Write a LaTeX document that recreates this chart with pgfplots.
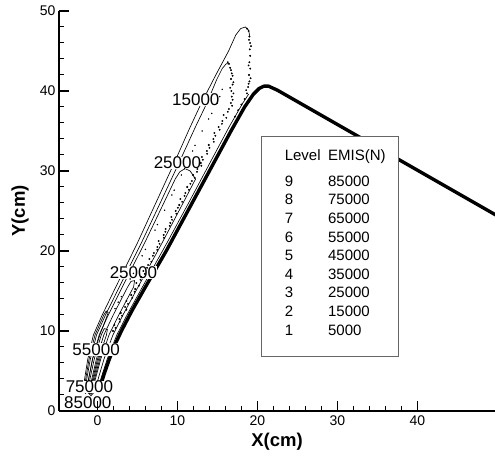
\documentclass[border=0pt]{standalone}
\usepackage{fontspec}
\setmainfont{Liberation Sans}
\usepackage{pgfplots}
\pgfplotsset{compat=1.18}
\usetikzlibrary{calc}

\begin{document}
\begin{tikzpicture}
\begin{axis}[
    name=ax,
    scale only axis,
    width=436pt, height=400pt,
    xmin=-4.8, xmax=49.7, ymin=0, ymax=50,
    axis x line=bottom, axis y line=left,
    axis line style={-, line width=2pt},
    axis on top,
    xtick={0,10,20,30,40}, ytick={0,10,20,30,40,50},
    minor tick num=4,
    tick align=inside,
    major tick length=10pt, minor tick length=5pt,
    major tick style={black, line width=1.5pt},
    minor tick style={black, line width=1pt},
    tick label style={font=\fontsize{14}{16}\selectfont},
    xticklabel style={yshift=-1pt},
    /pgf/number format/assume math mode=true,
    xlabel={X(cm)}, ylabel={Y(cm)},
    label style={font=\bfseries\fontsize{18.5}{20}\selectfont},
    xlabel style={at={(axis description cs:0.5,-0.0775)}, anchor=center},
    ylabel style={at={(axis description cs:-0.0894,0.5)}, anchor=center},
    every axis plot/.append style={black},
]
% thick boundary line
\addplot[line width=3.4pt, line join=round] coordinates {
  (0.3,2.8) (0.8,4.5) (1.5,6.5) (2.2,8.3) (3.0,10) (4.3,12.5) (6.0,15.5)
  (8.6,20) (11.3,25) (14.0,30) (16.7,35) (18.4,38) (19.5,39.6) (20.2,40.3)
  (20.8,40.6) (21.4,40.6) (22.5,40.1) (49.8,24.5)
};
% contour lines
\addplot[line width=0.65pt] coordinates {
  (-1.8,2.5) (-1.6,4) (-1.2,6.5) (-0.5,9.5) (0.6,12) (2.3,15.5) (5.0,21)
  (7.3,26) (9.6,31) (11.6,35.5) (13.0,38.5) (14.8,42) (16.4,45) (17.3,47)
  (17.9,47.8) (18.5,48.0) (18.9,47.6) (19.05,46.8)
};
\addplot[line width=0.65pt] coordinates {
  (-1.56,2.5) (-1.33,4) (-0.88,6.5) (-0.11,9.5) (1.01,12) (2.74,15.5)
  (5.49,21) (7.85,26) (10.19,31) (12.25,35.5) (13.69,38.5) (14.9,41.4)
  (15.6,42.8) (16.1,43.4) (16.45,43.4)
};
\addplot[line width=0.65pt] coordinates {
  (0.0,2.5) (0.43,4) (1.23,6.5) (2.43,9.5) (3.7,12) (5.63,15.5) (8.69,21)
  (11.4,26) (14.06,31) (16.46,35.5) (18.18,38.5) (18.9,39.6)
};
\addplot[line width=0.65pt] coordinates {
  (-1.36,2.5) (-1.1,4) (-0.61,6.5) (0.22,9.5) (1.36,12) (3.11,15.5) (5.9,21)
  (8.3,26) (9.73,29) (10.3,29.9) (10.95,30.3) (11.6,30.0) (12.27,29)
  (10.71,26) (8.08,21) (5.08,15.5) (3.19,12) (1.94,9.5) (0.83,6.5)
  (0.09,4) (-0.3,2.5) (-0.8,1.9) (-1.36,2.5)
};
\addplot[line width=0.65pt] coordinates {
  (-1.0,2.5) (-0.7,4) (-0.12,6.5) (0.8,9.5) (1.98,12) (3.78,15.5) (4.2,16.2)
  (4.65,16.3) (4.52,15.5) (2.67,12) (1.45,9.5) (0.42,6.5) (-0.25,4)
  (-0.6,2.5) (-0.8,2.1) (-1.0,2.5)
};
\addplot[line width=0.65pt] coordinates {
  (-1.2,2.5) (-0.93,4) (-0.39,6.5) (0.48,9.5) (0.85,10.3) (1.25,10.2)
  (1.13,9.5) (0.15,6.5) (-0.48,4) (-0.8,2.5) (-1.0,2.2) (-1.2,2.5)
};
\addplot[line width=0.65pt] coordinates {
  (-0.9,2.5) (-0.59,4) (0.02,6.5) (0.49,8) (0.7,8.5) (0.85,8.4) (0.78,8)
  (0.29,6.5) (-0.36,4) (-0.7,2.5) (-0.8,2.3) (-0.9,2.5)
};
\addplot[line width=0.65pt] coordinates {
  (-1.68,2.5) (-1.46,4) (-1.04,6.5) (-0.3,9.5) (0.8,12) (1.1,12.5)
  (1.35,12.3) (0.95,11.2) (0.3,9.5) (-0.6,6.5) (-1.1,4) (-1.3,2.5)
  (-1.5,2.2) (-1.68,2.5)
};
% noisy dotted contour parts
\addplot[only marks, mark=*, mark size=0.75pt] coordinates {
  (1.95,10) (2.12,10.75) (2.74,11.5) (2.92,12.25) (3.47,13) (3.62,13.75)
  (4.23,14.5) (4.73,15.25) (4.88,16) (5.48,16.75) (5.74,17.5) (6.34,18.25)
  (6.50,19) (7.05,19.75) (7.50,20.5) (7.65,21.25) (8.29,22) (8.53,22.75)
  (9.11,23.5) (9.25,24.25) (9.79,25) (10.23,25.75) (10.37,26.5) (11.00,27.25)
  (11.23,28) (11.82,28.75) (11.95,29.5) (12.49,30.25) (12.92,31) (13.05,31.75)
  (13.68,32.5) (13.92,33.25) (14.50,34) (14.63,34.75) (15.16,35.5) (15.62,36.25)
  (15.77,37) (16.43,37.75) (16.69,38.5)
  (16.8,39.3) (16.75,40.0) (16.9,40.8) (16.7,41.5) (16.8,42.2) (16.6,42.9) (16.45,43.4)
  (18.4,39.0) (18.7,39.7) (18.85,40.5) (19.0,41.2) (18.95,42.0) (19.1,42.8)
  (19.0,43.6) (19.1,44.4) (19.05,45.2) (19.1,46.0) (19.0,46.8) (18.9,47.5)
  (17.2,36.8) (17.6,37.6) (18.0,38.3)
};
\addplot[only marks, mark=*, mark size=0.7pt] coordinates {
  (2.26,10.4) (2.80,11.15) (3.09,11.9) (3.63,12.65) (3.82,13.4) (4.36,14.15)
  (4.65,14.9) (5.19,15.65) (5.38,16.4) (5.92,17.15) (6.21,17.9) (6.75,18.65)
  (6.94,19.4) (7.48,20.15) (7.77,20.9) (8.31,21.65) (8.50,22.4) (9.04,23.15)
  (9.33,23.9) (9.87,24.65) (10.06,25.4) (10.60,26.15) (10.89,26.9) (11.43,27.65)
  (11.62,28.4) (12.16,29.15) (12.45,29.9) (12.99,30.65) (13.18,31.4) (13.72,32.15)
  (14.01,32.9) (14.55,33.65) (14.74,34.4) (15.28,35.15) (15.57,35.9) (16.11,36.65)
  (16.30,37.4) (16.84,38.15)
  (16.9,38.9) (17.0,39.7) (16.6,40.4) (17.0,41.1) (16.9,41.9) (16.7,42.6)
  (16.3,43.6) (18.6,40.1) (18.9,40.9) (19.15,41.6) (18.9,43.2) (19.2,45.6)
  (18.95,46.4) (18.7,47.8)
};
\addplot[only marks, mark=*, mark size=0.5pt] coordinates {
  (2.2,12.8) (2.6,13.6) (3.0,14.3) (4.1,16.5) (4.5,17.2) (5.6,19.4) (6.0,20.2)
  (7.2,22.6) (7.5,23.3) (8.4,25.1) (9.3,27) (9.6,27.6) (10.5,29.5) (10.9,30.3)
  (11.9,32.5) (12.2,33.2) (13.1,35) (13.9,36.5) (14.3,37.2) (15.0,38.5)
  (15.3,39.3) (15.6,40.2)
};
% contour labels
\begin{scope}[every node/.style={fill=white, inner sep=0.4pt, font=\fontsize{17}{17}\selectfont}]
\node at (axis cs:12.3,38.9) {15000};
\node at (axis cs:10.0,31.0) {25000};
\node at (axis cs:4.5,17.3) {25000};
\node at (axis cs:-0.16,7.7) {55000};
\node at (axis cs:-1.0,3.0) {75000};
\node at (axis cs:-1.2,1.0) {85000};
\end{scope}
% level table
\node[draw=black!60, line width=0.8pt, fill=white, anchor=north west,
      minimum width=137.7pt, minimum height=220pt, inner sep=0pt] (lg)
      at (axis cs:20.4,34.4) {};
\node[anchor=north west, inner sep=0pt, font=\fontsize{15}{18.6}\selectfont]
      at ($(lg.north west)+(24pt,-11.3pt)$) {%
  \begin{tabular}{@{}p{43.3pt}@{}l@{}}
  Level & EMIS(N)\\[7.4pt]
  9 & 85000\\
  8 & 75000\\
  7 & 65000\\
  6 & 55000\\
  5 & 45000\\
  4 & 35000\\
  3 & 25000\\
  2 & 15000\\
  1 & 5000
  \end{tabular}};
\end{axis}
\pgfresetboundingbox
\path[use as bounding box] ($(ax.south west)+(-59pt,-45pt)$) rectangle ($(ax.north east)+(0pt,11pt)$);
\end{tikzpicture}
\end{document}
